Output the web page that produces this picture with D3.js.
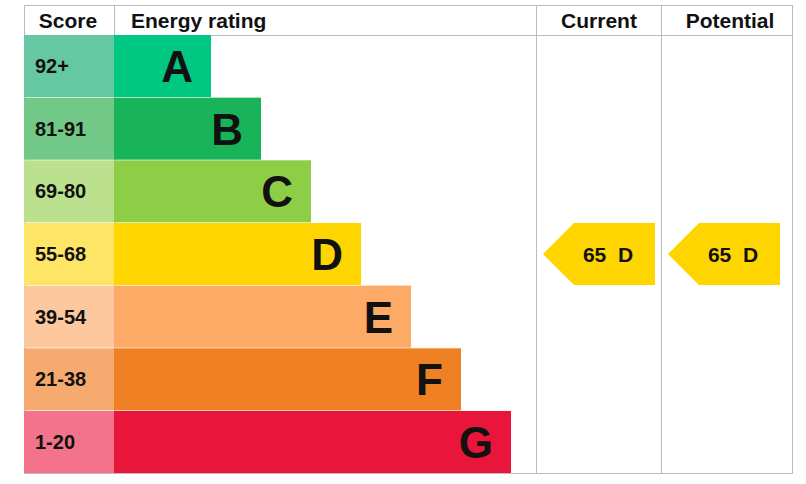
<!DOCTYPE html>
<html><head><meta charset="utf-8">
<script src="https://cdn.jsdelivr.net/npm/d3@7"></script>
<style>body{margin:0;background:#fff}text{font-family:Arial,"Liberation Sans",sans-serif;font-weight:bold}</style>
</head><body><svg id="c" width="806" height="484"></svg>
<script>
// energy bands, best to worst
var letters = ['A','B','C','D','E','F','G'];
var scores = ['92+','81-91','69-80','55-68','39-54','21-38','1-20'];
var barColors = ['#00c781','#19b459','#8dce46','#ffd500','#fcaa65','#ef8023','#e9153b'];
var scoreColors = ['#66c8a3','#72c886','#bbe08e','#ffe566','#fdc89e','#f6aa70','#f2738a'];
var barEnds = [1,2,3,4,5,6,7];   // relative bar length
var current = {value: 65, band: 'D'};
var potential = {value: 65, band: 'D'};

var svg = d3.select('#c');
var y = d3.scaleBand().domain(letters).range([35, 473]).paddingInner(0.01);
var x = d3.scaleLinear().domain([0, 7]).range([114, 511]);
var xBar = function(v){ return 211 + (v - 1) * 50; };

// header
var heads = [['Score',68,'middle'],['Energy rating',131,'start'],['Current',599,'middle'],['Potential',730,'middle']];
svg.selectAll('text.h').data(heads).enter().append('text').attr('class','h')
  .attr('x', function(d){return d[1];}).attr('y', 28).attr('text-anchor', function(d){return d[2];})
  .attr('font-size', 21).attr('fill','#111').text(function(d){return d[0];});

// grid lines
var g = svg.append('g').attr('stroke','#bbb').attr('stroke-width',1);
g.append('line').attr('x1',24).attr('x2',792).attr('y1',5.5).attr('y2',5.5);
g.append('line').attr('x1',24).attr('x2',792).attr('y1',35.5).attr('y2',35.5);
g.append('line').attr('x1',24).attr('x2',792).attr('y1',473.5).attr('y2',473.5);
[24,114,536,661,792].forEach(function(cx){
  g.append('line').attr('x1',cx+0.5).attr('x2',cx+0.5).attr('y1',5).attr('y2',474);
});

// rows
letters.forEach(function(l, i){
  svg.append('rect').attr('x',24).attr('y',y(l)).attr('width',90).attr('height',y.bandwidth()).attr('fill',scoreColors[i]);
  svg.append('rect').attr('x',114).attr('y',y(l)).attr('width',xBar(barEnds[i])-114).attr('height',y.bandwidth()).attr('fill',barColors[i]);
  svg.append('text').attr('x',35).attr('y',y(l)+y.bandwidth()/2+7).attr('font-size',20).attr('fill','#111').text(scores[i]);
  svg.append('text').attr('x',xBar(barEnds[i])-18).attr('y',y(l)+y.bandwidth()/2+16).attr('text-anchor','end')
    .attr('font-size',44).attr('fill','#111').text(l);
});

// arrows
function arrow(x0, x1, rating){
  var i = letters.indexOf(rating.band), t = y(rating.band), h = y.bandwidth();
  var pts = [[x0, t+h/2],[x0+31, t],[x1, t],[x1, t+h],[x0+31, t+h]];
  svg.append('polygon').attr('points', pts.join(' ')).attr('fill', barColors[i]);
  svg.append('text').attr('x',(x0+x1)/2+9).attr('y',t+h/2+8).attr('text-anchor','middle')
    .attr('font-size',21).attr('fill','#111').attr('xml:space','preserve').text(rating.value + '  ' + rating.band);
}
arrow(543, 655, current);
arrow(668, 780, potential);
</script></body></html>
